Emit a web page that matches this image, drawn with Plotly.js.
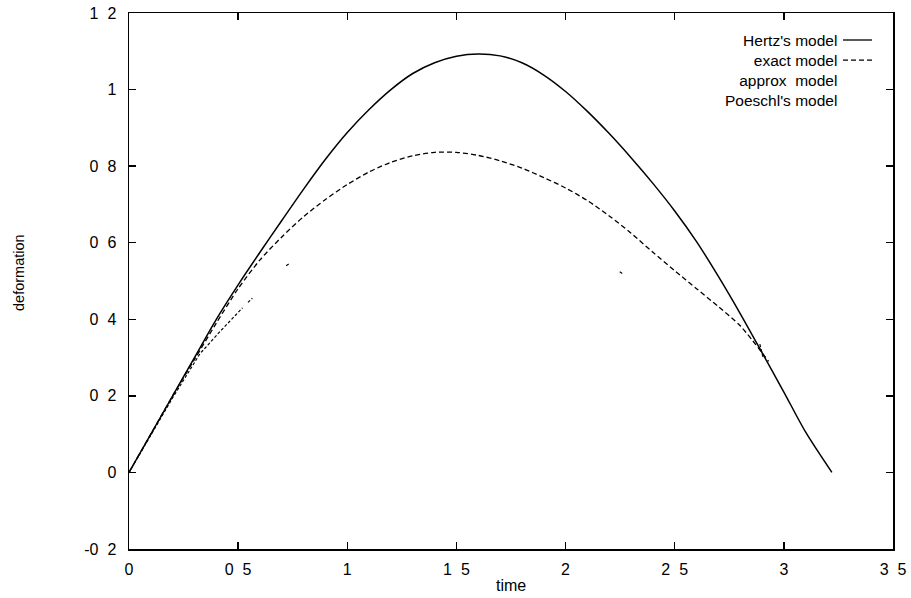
<!DOCTYPE html>
<html>
<head>
<meta charset="utf-8">
<script src="https://cdn.plot.ly/plotly-3.0.1.min.js"></script>
<style>html,body{margin:0;padding:0;background:#fff;}#chart{width:911px;height:598px;}</style>
</head>
<body>
<div id="chart"></div>
<script>
// ---- data ----
var hertzT = [0,0.1,0.2,0.3,0.4,0.5,0.6,0.7,0.8,0.9,1.0,1.1,1.2,1.3,1.4,1.5,1.6,1.7,1.8,1.9,2.0,2.1,2.2,2.3,2.4,2.5,2.6,2.7,2.8,2.9,3.0,3.1,3.22];
var hertzY = [0,0.10,0.20,0.30,0.40,0.49,0.575,0.658,0.74,0.818,0.888,0.948,1.0,1.042,1.07,1.087,1.093,1.088,1.07,1.038,0.995,0.943,0.885,0.822,0.755,0.683,0.603,0.512,0.415,0.313,0.21,0.105,0];
var exactT = [0,0.1,0.2,0.3,0.4,0.5,0.6,0.7,0.8,0.9,1.0,1.1,1.2,1.3,1.4,1.5,1.6,1.7,1.8,1.9,2.0,2.1,2.2,2.3,2.4,2.5,2.6,2.7,2.8,2.93];
var exactY = [0,0.10,0.20,0.295,0.39,0.48,0.555,0.615,0.668,0.713,0.752,0.785,0.81,0.827,0.836,0.836,0.828,0.814,0.795,0.77,0.743,0.71,0.67,0.625,0.575,0.527,0.48,0.433,0.383,0.29];
// approx model: only fragments remain visible in the reference (gaps = null)
var approxT = [0,0.2,0.325,0.42,0.52,null,0.545,0.565,null,0.72,0.737,null,2.248,2.262,null,2.89,2.905];
var approxY = [0,0.195,0.31,0.37,0.43,null,0.444,0.455,null,0.540,0.546,null,0.524,0.519,null,0.335,0.30];
var poeschlT = [];
var poeschlY = [];
var xTickVals = [0,0.5,1,1.5,2,2.5,3,3.5];
var xTickText = ["0","0\u00a0\u00a05","1","1\u00a0\u00a05","2","2\u00a0\u00a05","3","3\u00a0\u00a05"];
var yTickVals = [-0.2,0,0.2,0.4,0.6,0.8,1,1.2];
var yTickText = ["-0\u00a0\u00a02","0","0\u00a0\u00a02","0\u00a0\u00a04","0\u00a0\u00a06","0\u00a0\u00a08","1","1\u00a0\u00a02"];
var seriesNames = ["Hertz's model","exact model","approx\u00a0 model","Poeschl's model"];

// ---- layout helpers (pixel -> paper) ----
var L = 129, R = 893, T = 13, B = 549;
function px(x){ return (x - L) / (R - L); }
function py(y){ return (B - y) / (B - T); }

var fam = "Liberation Sans, Arial, sans-serif";
var tickFont = {family: fam, size: 16, color: "#000"};
var legFont = {family: fam, size: 15.5, color: "#000"};

var traces = [
  {x: hertzT, y: hertzY, mode: "lines", line: {color: "#000", width: 1.5, shape: "spline", smoothing: 0.8}, name: seriesNames[0], showlegend: false},
  {x: exactT, y: exactY, mode: "lines", line: {color: "#000", width: 1.3, dash: "5px,3px", shape: "spline", smoothing: 0.8}, name: seriesNames[1], showlegend: false},
  {x: approxT, y: approxY, mode: "lines", line: {color: "#000", width: 1.2, dash: "3px,2px"}, connectgaps: false, name: seriesNames[2], showlegend: false},
  {x: poeschlT, y: poeschlY, mode: "lines", line: {color: "#000", width: 1, dash: "dot"}, name: seriesNames[3], showlegend: false}
];

// legend block: one right-aligned multi-line text, rows ~20 px apart
var lineGap = 20.15;
var firstRow = 40;
var annotations = [
  {xref: "paper", yref: "paper", x: px(839), y: py(firstRow - lineGap / 2), xanchor: "right", yanchor: "top", align: "right",
   text: seriesNames.join("<br>"), showarrow: false, font: legFont},
  {xref: "paper", yref: "paper", x: px(511), y: py(585), xanchor: "center", yanchor: "middle",
   text: "time", showarrow: false, font: tickFont},
  {xref: "paper", yref: "paper", x: px(19), y: py(272), xanchor: "center", yanchor: "middle",
   text: "deformation", textangle: -90, showarrow: false, font: {family: fam, size: 14.5, color: "#000"}}
];

var shapes = [
  {type: "line", xref: "paper", yref: "paper", x0: px(843), x1: px(872), y0: py(firstRow), y1: py(firstRow), line: {color: "#000", width: 1.3}},
  {type: "line", xref: "paper", yref: "paper", x0: px(843), x1: px(872), y0: py(firstRow + lineGap), y1: py(firstRow + lineGap), line: {color: "#000", width: 1.3, dash: "5px,3px"}}
];

var axisCommon = {showgrid: false, zeroline: false, showline: true, linecolor: "#000", linewidth: 1.5,
  mirror: "ticks", ticks: "inside", ticklen: 7, tickwidth: 1.3, tickcolor: "#000", tickfont: tickFont};

var layout = {
  width: 911, height: 598,
  margin: {l: L, r: 911 - R, t: T, b: 598 - B, pad: 0},
  paper_bgcolor: "#fff", plot_bgcolor: "#fff",
  showlegend: false,
  xaxis: Object.assign({}, axisCommon, {range: [0, 3.5], tickmode: "array", tickvals: xTickVals, ticktext: xTickText, ticklabelstandoff: 5}),
  yaxis: Object.assign({}, axisCommon, {range: [-0.2, 1.2], tickmode: "array", tickvals: yTickVals, ticktext: yTickText, ticklabelstandoff: 8}),
  annotations: annotations,
  shapes: shapes
};

Plotly.newPlot("chart", traces, layout, {staticPlot: true, displayModeBar: false});
</script>
</body>
</html>
